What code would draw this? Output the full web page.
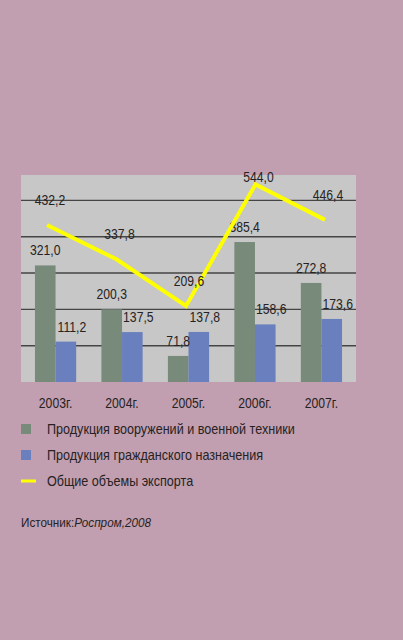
<!DOCTYPE html>
<html>
<head>
<meta charset="utf-8">
<script src="https://cdn.jsdelivr.net/npm/d3@7"></script>
<style>
  body { margin: 0; background: #c19fb0; }
  svg text { font-family: "Liberation Sans", Arial, sans-serif; fill: #262223; }
</style>
</head>
<body>
<div id="chart"></div>
<script>
// data
let years = ["2003г.", "2004г.", "2005г.", "2006г.", "2007г."];
let military = [321.0, 200.3, 71.8, 385.4, 272.8];
let civil = [111.2, 137.5, 137.8, 158.6, 173.6];
let total = [432.2, 337.8, 209.6, 544.0, 446.4];
let seriesNames = [
  "Продукция вооружений и военной техники",
  "Продукция гражданского назначения",
  "Общие объемы экспорта"
];
let gridTicks = [100, 200, 300, 400, 500];

let width = 403;
let height = 640;
let plot = { left: 21, right: 356, top: 175, bottom: 382 };
let colors = { military: "#788a7a", civil: "#6a7fbd", total: "#ffff00" };
// the original uses a narrow typeface, squeeze the text a bit
let narrow = 0.87;

let fmt = v => v.toFixed(1).replace(".", ",");

let svg = d3
  .select("#chart")
  .append("svg")
  .attr("width", width)
  .attr("height", height);

svg
  .append("rect")
  .attr("width", width)
  .attr("height", height)
  .attr("fill", "#c19fb0");

// Set scale
let xScale = d3
  .scaleBand()
  .domain(years)
  .range([plot.left, plot.right])
  .paddingInner(0.38)
  .paddingOuter(0.21);
let yScale = d3
  .scaleLinear()
  .domain([0, 570])
  .range([plot.bottom, plot.top]);
// line points sit on their own spacing in the original
let xLine = d3
  .scalePoint()
  .domain(years)
  .range([47, 325]);

let barW = xScale.bandwidth() / 2;

// plot background
svg
  .append("rect")
  .attr("x", plot.left)
  .attr("y", plot.top)
  .attr("width", plot.right - plot.left)
  .attr("height", plot.bottom - plot.top)
  .attr("fill", "#c7c7c7");

// grid lines
svg
  .append("g")
  .selectAll("line")
  .data(gridTicks)
  .enter()
  .append("line")
  .attr("x1", plot.left)
  .attr("x2", plot.right)
  .attr("y1", d => yScale(d))
  .attr("y2", d => yScale(d))
  .attr("stroke", "#454545")
  .attr("stroke-width", 1.4);

// bars
svg
  .append("g")
  .selectAll("rect")
  .data(military)
  .enter()
  .append("rect")
  .attr("x", (d, i) => xScale(years[i]))
  .attr("y", d => yScale(d))
  .attr("width", barW)
  .attr("height", d => yScale(0) - yScale(d))
  .attr("fill", colors.military);

svg
  .append("g")
  .selectAll("rect")
  .data(civil)
  .enter()
  .append("rect")
  .attr("x", (d, i) => xScale(years[i]) + barW)
  .attr("y", d => yScale(d))
  .attr("width", barW)
  .attr("height", d => yScale(0) - yScale(d))
  .attr("fill", colors.civil);

// helper for squeezed labels
function addLabels(data, xf, yf) {
  svg
    .append("g")
    .selectAll("text")
    .data(data)
    .enter()
    .append("text")
    .attr("transform", (d, i) => `translate(${xf(d, i)}, ${yf(d, i)}) scale(${narrow}, 1)`)
    .attr("dy", "0.35em")
    .attr("text-anchor", "middle")
    .style("font-size", "14px")
    .text(fmt);
}

// bar labels
addLabels(military, (d, i) => xScale(years[i]) + barW / 2, d => yScale(d) - 15);
addLabels(civil, (d, i) => xScale(years[i]) + barW * 1.5 + 6, d => yScale(d) - 15);

// total line
let line = d3
  .line()
  .x((d, i) => xLine(years[i]))
  .y(d => yScale(d));

svg
  .append("path")
  .datum(total)
  .attr("d", line)
  .attr("fill", "none")
  .attr("stroke", colors.total)
  .attr("stroke-width", 4);

addLabels(
  total,
  (d, i) => xLine(years[i]) + 3,
  d => Math.max(yScale(d) - 25, plot.top + 2)
);

// X axis
let xAxis = d3
  .axisBottom()
  .scale(xScale)
  .tickSize(0)
  .tickPadding(16);
let gx = svg
  .append("g")
  .attr("transform", `translate(0, ${plot.bottom})`)
  .call(xAxis);
gx.select(".domain").remove();
gx.attr("font-family", null).attr("font-size", null);
gx.selectAll("text")
  .style("font-size", "14px")
  .attr("fill", null)
  .attr("transform", `scale(${narrow}, 1)`);

// legend
let legend = svg
  .append("g")
  .attr("transform", "translate(21, 429)");
let legendColors = [colors.military, colors.civil, colors.total];
seriesNames.forEach((name, i) => {
  let g = legend.append("g").attr("transform", `translate(0, ${i * 26})`);
  if (i < 2) {
    g.append("rect")
      .attr("x", 0)
      .attr("y", -5)
      .attr("width", 10)
      .attr("height", 10)
      .attr("fill", legendColors[i]);
  } else {
    g.append("rect")
      .attr("x", 0)
      .attr("y", -1.5)
      .attr("width", 15)
      .attr("height", 3)
      .attr("fill", legendColors[i]);
  }
  g.append("text")
    .attr("transform", `translate(26, 0) scale(0.9, 1)`)
    .attr("dy", "0.35em")
    .style("font-size", "14px")
    .text(name);
});

// source
let src = svg
  .append("text")
  .attr("transform", `translate(21, 522) scale(0.9, 1)`)
  .attr("dy", "0.35em")
  .style("font-size", "13px");
src.append("tspan").text("Источник:");
src.append("tspan").style("font-style", "italic").text("Роспром,2008");
</script>
</body>
</html>
